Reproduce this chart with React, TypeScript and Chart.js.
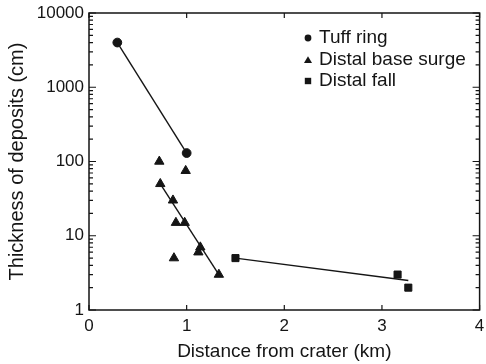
import React, { useEffect, useRef } from "react";
import { Chart, registerables } from "chart.js";

Chart.register(...registerables);

// ---- data ----
const tuffX = [0.29, 1.0];
const tuffY = [4000, 130];
const surgeX = [0.72, 0.99, 0.73, 0.86, 0.89, 0.98, 1.14, 1.12, 0.87, 1.33];
const surgeY = [100, 75, 50, 30, 15, 15, 7, 6, 5, 3];
const fallX = [1.5, 3.16, 3.27];
const fallY = [5, 3, 2];

const tuffFitX = [0.29, 1.0];
const tuffFitY = [4000, 130];
const surgeFitX = [0.73, 1.33];
const surgeFitY = [50, 3];
const fallFitX = [1.5, 3.27];
const fallFitY = [5, 2.5];

const xTicks = [0, 1, 2, 3, 4];
const yTicks = [1, 10, 100, 1000, 10000];
const legendLabels = ["Tuff ring", "Distal base surge", "Distal fall"];
const xTitle = "Distance from crater (km)";
const yTitle = "Thickness of deposits (cm)";

const INK = "#151515";
const FONT = "'Liberation Sans', Arial, sans-serif";

const pts = (xs: number[], ys: number[]) => xs.map((x, i) => ({ x, y: ys[i] }));

const decorPlugin = {
  id: "decor",
  afterDraw(chart: any) {
    const { ctx, chartArea: a, scales } = chart;
    ctx.save();
    ctx.strokeStyle = INK;
    ctx.lineWidth = 1.5;
    ctx.strokeRect(a.left, a.top, a.right - a.left, a.bottom - a.top);
    ctx.lineWidth = 1.2;
    ctx.beginPath();
    for (const v of xTicks) {
      const px = scales.x.getPixelForValue(v);
      ctx.moveTo(px, a.bottom);
      ctx.lineTo(px, a.bottom - 5);
      ctx.moveTo(px, a.top);
      ctx.lineTo(px, a.top + 5);
    }
    for (let d = 1; d <= 10000; d *= 10) {
      const maxM = d === 10000 ? 1 : 9;
      for (let m = 1; m <= maxM; m++) {
        const py = scales.y.getPixelForValue(d * m);
        const len = m === 1 ? 7 : 4;
        ctx.moveTo(a.left, py);
        ctx.lineTo(a.left + len, py);
        ctx.moveTo(a.right, py);
        ctx.lineTo(a.right - len, py);
      }
    }
    ctx.stroke();

    // legend
    const lx = 308;
    const rows = [38, 60, 81];
    ctx.fillStyle = INK;
    ctx.font = `19px ${FONT}`;
    ctx.textBaseline = "middle";
    ctx.textAlign = "left";
    rows.forEach((ry, i) => {
      ctx.beginPath();
      if (i === 0) {
        ctx.arc(lx, ry, 3.4, 0, Math.PI * 2);
      } else if (i === 1) {
        ctx.moveTo(lx, ry - 3.8);
        ctx.lineTo(lx + 4, ry + 3);
        ctx.lineTo(lx - 4, ry + 3);
        ctx.closePath();
      } else {
        ctx.rect(lx - 3.2, ry - 3.2, 6.4, 6.4);
      }
      ctx.fill();
      ctx.fillText(legendLabels[i], 319, ry);
    });
    ctx.restore();
  },
};

export default function App() {
  const ref = useRef<HTMLCanvasElement>(null);
  useEffect(() => {
    if (!ref.current) return;
    const lineDs = (xs: number[], ys: number[]) => ({
      data: pts(xs, ys),
      showLine: true,
      pointRadius: 0,
      borderColor: INK,
      borderWidth: 1.4,
      order: 2,
    });
    const chart = new Chart(ref.current, {
      type: "scatter",
      data: {
        datasets: [
          {
            label: legendLabels[0],
            data: pts(tuffX, tuffY),
            pointStyle: "circle",
            pointRadius: 4.4,
            backgroundColor: INK,
            borderColor: INK,
            order: 0,
          },
          {
            label: legendLabels[1],
            data: pts(surgeX, surgeY),
            pointStyle: "triangle",
            pointRadius: 5.4,
            backgroundColor: INK,
            borderColor: INK,
            order: 0,
          },
          {
            label: legendLabels[2],
            data: pts(fallX, fallY),
            pointStyle: "rect",
            pointRadius: 5,
            backgroundColor: INK,
            borderColor: INK,
            order: 0,
          },
          lineDs(tuffFitX, tuffFitY),
          lineDs(surgeFitX, surgeFitY),
          lineDs(fallFitX, fallFitY),
        ] as any,
      },
      options: {
        animation: false,
        responsive: false,
        layout: { padding: { left: 0, top: 13, right: 5, bottom: 0 } },
        plugins: { legend: { display: false }, tooltip: { enabled: false } },
        scales: {
          x: {
            type: "linear",
            min: 0,
            max: 4,
            grid: { display: false, drawTicks: false },
            border: { display: false },
            afterBuildTicks: (s: any) => {
              s.ticks = xTicks.map((v) => ({ value: v }));
            },
            afterFit: (s: any) => {
              s.height = 54;
              s.paddingLeft = 0;
              s.paddingRight = 0;
            },
            ticks: {
              padding: 6,
              color: INK,
              font: { family: FONT, size: 17 },
              callback: (v: any) => String(v),
            },
            title: {
              display: true,
              text: xTitle,
              color: INK,
              font: { family: FONT, size: 19 },
              padding: { top: 0, bottom: 1 },
            },
          },
          y: {
            type: "logarithmic",
            min: 1,
            max: 10000,
            grid: { display: false, drawTicks: false },
            border: { display: false },
            afterBuildTicks: (s: any) => {
              s.ticks = yTicks.map((v) => ({ value: v }));
            },
            afterFit: (s: any) => {
              s.width = 89;
              s.paddingTop = 0;
              s.paddingBottom = 0;
            },
            ticks: {
              padding: 5,
              color: INK,
              font: { family: FONT, size: 17 },
              callback: (v: any) => String(v),
            },
            title: {
              display: true,
              text: yTitle,
              color: INK,
              font: { family: FONT, size: 20 },
              padding: { top: 5, bottom: 0 },
            },
          },
        },
      } as any,
      plugins: [decorPlugin],
    });
    return () => chart.destroy();
  }, []);
  return (
    <div style={{ position: "absolute", left: 0, top: 0, width: 486, height: 364, background: "#fff" }}>
      <canvas ref={ref} width={486} height={364} style={{ display: "block" }} />
    </div>
  );
}
